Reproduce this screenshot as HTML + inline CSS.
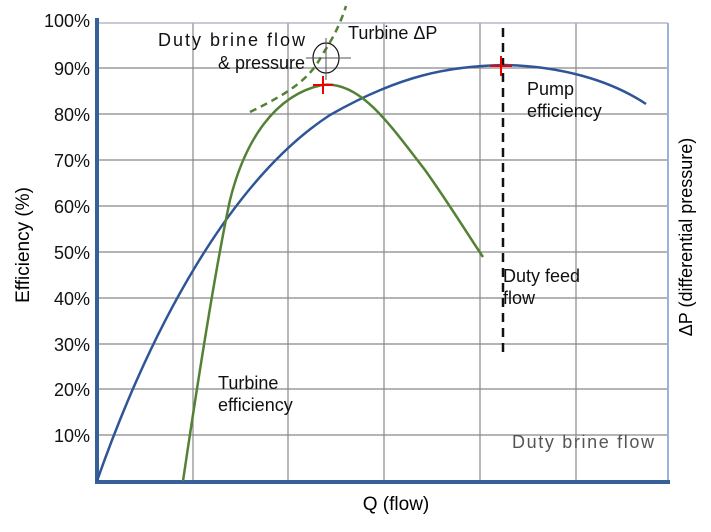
<!DOCTYPE html>
<html><head><meta charset="utf-8"><style>body{margin:0;background:#fff}svg{display:block}</style></head><body>
<svg width="711" height="532" viewBox="0 0 711 532" font-family="Liberation Sans, sans-serif">
<rect width="711" height="532" fill="#fff"/>
<g stroke="#888" stroke-width="1.2">
<line x1="193" y1="23" x2="193" y2="481"/><line x1="288" y1="23" x2="288" y2="481"/><line x1="384" y1="23" x2="384" y2="481"/><line x1="480" y1="23" x2="480" y2="481"/><line x1="576" y1="23" x2="576" y2="481"/>
<line x1="97" y1="68" x2="668" y2="68"/><line x1="97" y1="114" x2="668" y2="114"/><line x1="97" y1="160" x2="668" y2="160"/><line x1="97" y1="206" x2="668" y2="206"/><line x1="97" y1="252" x2="668" y2="252"/><line x1="97" y1="298" x2="668" y2="298"/><line x1="97" y1="344" x2="668" y2="344"/><line x1="97" y1="389" x2="668" y2="389"/><line x1="97" y1="435" x2="668" y2="435"/>
</g>
<line x1="97" y1="23" x2="668" y2="23" stroke="#aab" stroke-width="1.2"/>
<line x1="668" y1="23" x2="668" y2="481" stroke="#9ab3d6" stroke-width="2"/>
<line x1="97" y1="18" x2="97" y2="484" stroke="#36609a" stroke-width="4"/>
<line x1="95" y1="482" x2="670" y2="482" stroke="#36609a" stroke-width="4"/>
<g font-size="18" fill="#111" text-anchor="end">
<text x="90" y="27">100%</text><text x="90" y="75">90%</text><text x="90" y="121">80%</text><text x="90" y="167">70%</text><text x="90" y="213">60%</text><text x="90" y="259">50%</text><text x="90" y="305">40%</text><text x="90" y="351">30%</text><text x="90" y="396">20%</text><text x="90" y="442">10%</text>
</g>
<text transform="translate(29,245) rotate(-90)" font-size="19" text-anchor="middle">Efficiency (%)</text>
<text transform="translate(692,237) rotate(-90)" font-size="18" text-anchor="middle">ΔP (differential pressure)</text>
<text x="396" y="510" font-size="19" text-anchor="middle">Q (flow)</text>
<path d="M97,481 C150,330 230,180 330,115 C400,75 450,66 504,65 C560,66 610,80 646,104" fill="none" stroke="#2f5597" stroke-width="2.5"/>
<path d="M183,481 C195,400 215,270 230,200 C245,140 275,95 322,85 C360,80 390,125 425,170 C450,205 468,235 483,257" fill="none" stroke="#538135" stroke-width="2.5"/>
<path d="M250,112 C285,95 310,80 322,55 C332,40 340,25 346,6" fill="none" stroke="#538135" stroke-width="2.5" stroke-dasharray="7,5"/>
<ellipse cx="326" cy="58" rx="13" ry="15" fill="none" stroke="#111" stroke-width="1.2"/>
<line x1="306" y1="58" x2="351" y2="58" stroke="#555" stroke-width="1"/>
<line x1="326" y1="38" x2="326" y2="80" stroke="#555" stroke-width="1"/>
<line x1="503" y1="28" x2="503" y2="352" stroke="#111" stroke-width="2.5" stroke-dasharray="9,6"/>
<g stroke="#e00" stroke-width="2"><line x1="313" y1="85" x2="333" y2="85"/><line x1="323" y1="76" x2="323" y2="94"/><line x1="490" y1="66" x2="512" y2="66"/><line x1="501" y1="56" x2="501" y2="76"/></g>
<g font-size="18" fill="#111">
<text x="158" y="46" textLength="147">Duty brine  flow</text>
<text x="305" y="69" text-anchor="end">&amp; pressure</text>
<text x="348" y="39">Turbine ΔP</text>
<text x="527" y="95">Pump</text><text x="527" y="117">efficiency</text>
<text x="503" y="282">Duty feed</text><text x="503" y="304">flow</text>
<text x="218" y="389">Turbine</text><text x="218" y="411">efficiency</text>
<text x="512" y="448" fill="#555" textLength="142">Duty brine  flow</text>
</g>
</svg>
</body></html>
